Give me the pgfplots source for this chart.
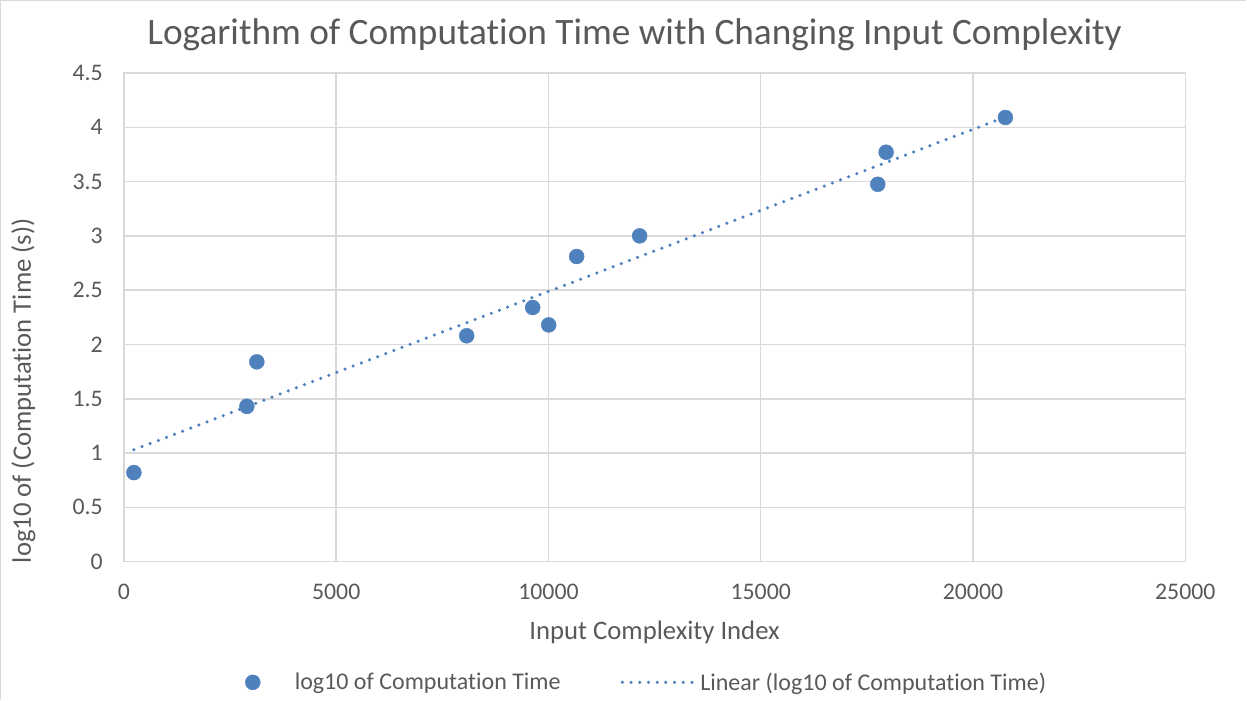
\documentclass[border=0pt]{standalone}
\usepackage{pgfplots}
\pgfplotsset{compat=1.18}
\usepackage{fontspec}
\setmainfont{Carlito}[Ligatures={NoCommon,NoContextual,NoRare}]
\definecolor{ser}{RGB}{79,129,189}
\definecolor{gridc}{RGB}{217,217,217}
\definecolor{txt}{RGB}{89,89,89}
\begin{document}
\begin{tikzpicture}[x=1pt,y=1pt]
\path (0,0) rectangle (1247,700);
\draw[gridc, line width=1.5pt] (0.75,0) -- (0.75,699.25) -- (1247,699.25);
\node[anchor=base, text=txt, font=\fontsize{37.3}{44}\selectfont] at (635,655) {Logarithm of Computation Time with Changing Input Complexity};
\node[anchor=base, text=txt, font=\fontsize{26.7}{32}\selectfont] at (655,60) {Input Complexity Index};
\node[anchor=base, rotate=90, text=txt, font=\fontsize{26.7}{32}\selectfont] at (31,309) {log10 of (Computation Time (s))};
\begin{axis}[at={(124pt,138pt)}, anchor=south west, scale only axis,
  width=1062pt, height=489pt,
  xmin=0, xmax=25000, ymin=0, ymax=4.5,
  xtick={0,5000,10000,15000,20000,25000},
  ytick={0,0.5,1,1.5,2,2.5,3,3.5,4,4.5},
  grid=major, major grid style={gridc, line width=1.5pt},
  axis line style={gridc, line width=1.5pt},
  major tick length=0pt,
  /pgf/number format/assume math mode=true,
  /pgf/number format/1000 sep={},
  scaled x ticks=false,
  tick label style={font=\fontsize{23.8}{28}\selectfont, text=txt, inner sep=0pt},
  xticklabel style={anchor=north, yshift=-22pt},
  yticklabel style={anchor=east, xshift=-21pt},
  legend columns=2,
  legend style={at={(0.4925,-0.247)}, anchor=center, draw=none, fill=none,
    font=\fontsize{24}{28}\selectfont, text=txt,
    /tikz/every even column/.append style={column sep=58pt}},
]
\addplot[only marks, mark=*, mark size=7.5pt, color=ser, mark options={draw=ser, fill=ser},
  legend image code/.code={\path[draw=none,fill=none] (-7.5pt,-6pt) rectangle (40pt,6pt); \fill[ser] (0pt,0pt) circle (7.5pt);}]
coordinates {
(235,0.82) (2895,1.43) (3131,1.84) (8074,2.08) (9628,2.34) (10005,2.18)
(10664,2.81) (12147,3.00) (17757,3.475) (17954,3.77) (20763,4.09)
};
\addlegendentry{log10 of Computation Time}
\addplot[ser, line width=3.5pt, dash pattern=on 0pt off 8.7pt, line cap=round,
  legend image code/.code={\path[draw=none,fill=none] (0pt,-6pt) rectangle (76pt,6pt); \draw[ser, line width=3.5pt, dash pattern=on 0pt off 8.7pt, line cap=round] (0pt,0pt) -- (70pt,0pt);}]
coordinates {(235,1.03) (20763,4.095)};
\addlegendentry{Linear (log10 of Computation Time)}
\end{axis}
\end{tikzpicture}
\end{document}
